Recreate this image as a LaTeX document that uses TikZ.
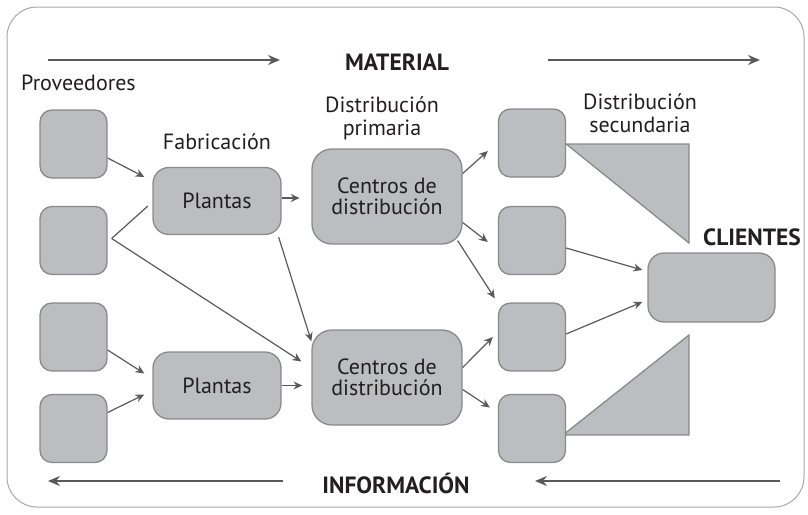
\documentclass[tikz,border=0pt]{standalone}
\usepackage{fontspec}
\setmainfont{PT Sans}
\usetikzlibrary{arrows.meta,calc}
\definecolor{boxfill}{HTML}{BCBDC0}
\definecolor{boxline}{HTML}{8A8A8C}
\definecolor{arrline}{HTML}{5A5A5A}
\definecolor{txt}{HTML}{231F20}
\definecolor{frame}{HTML}{A8A8A8}
\begin{document}
\begin{tikzpicture}[x=1pt,y=-1pt,
  every node/.style={text=txt},
  gbox/.style={draw=boxline,fill=boxfill,line width=1.3pt,inner sep=0pt,align=center,font=\fontsize{22}{20.5}\selectfont},
  small/.style={gbox,minimum width=67pt,minimum height=68pt,rounded corners=12pt},
  plant/.style={gbox,minimum width=128pt,minimum height=67pt,rounded corners=16pt},
  center/.style={gbox,minimum width=150pt,minimum height=95pt,rounded corners=20pt},
  lbl/.style={font=\fontsize{22}{23}\selectfont,align=center,inner sep=0pt},
  big/.style={font=\fontsize{23.5}{23.5}\selectfont\bfseries,inner sep=0pt},
  arr/.style={draw=arrline,line width=1.2pt,-{Stealth[length=9pt,width=8pt,inset=3pt]}},
  flow/.style={draw=arrline,line width=2pt,-{Stealth[length=12pt,width=10pt,inset=4pt]}},
  tri/.style={draw=boxline,fill=boxfill,line width=1.3pt,line join=miter}]
\useasboundingbox (0,0) rectangle (808,514);
\draw[frame,line width=1pt,rounded corners=30pt] (7,7) rectangle (804,507);

% flow labels
\node[big] (mat) at (397,62) {MATERIAL};
\node[big] (inf) at (396,483) {INFORMACIÓN};
\coordinate (m1) at (48,60);
\coordinate (m2) at (280,60);
\coordinate (m3) at (548,60);
\coordinate (m4) at (760,60);
\coordinate (i1) at (283,481);
\coordinate (i2) at (48,481);
\coordinate (i3) at (780,481);
\coordinate (i4) at (535,481);
\draw[flow] (m1) -- (m2);
\draw[flow] (m3) -- (m4);
\draw[flow] (i1) -- (i2);
\draw[flow] (i3) -- (i4);

% labels
\node[lbl,anchor=west] (lprov) at (21,83) {Proveedores};
\node[lbl] (lfab) at (217,142) {Fabricación};
\node[lbl] (lprim) at (382,118) {Distribución\\primaria};
\node[lbl] (lsec) at (640,113) {Distribución\\secundaria};
\node[big] (lcli) at (752,237) {CLIENTES};

% suppliers
\node[small] (s1) at (73.5,144) {};
\node[small] (s2) at (73.5,240.5) {};
\node[small] (s3) at (73.5,337) {};
\node[small] (s4) at (73.5,428.5) {};

% plants
\node[plant] (p1) at (217,201) {Plantas};
\node[plant] (p2) at (217,385.5) {Plantas};

% distribution centres
\node[center] (c1) at (387,196.5) {Centros de\\distribución};
\node[center] (c2) at (387,377.5) {Centros de\\distribución};

% secondary
\node[small] (r1) at (532,143) {};
\node[small] (r2) at (532,240.5) {};
\node[small] (r3) at (532,337) {};
\node[small] (r4) at (532,428.5) {};

% clients
\node[gbox,minimum width=127pt,minimum height=69pt,rounded corners=16pt] (cl) at (711.5,287.5) {};

% triangles
\draw[tri] ($(r1.east)+(0,1)$) -- (689,144) -- (689,243) -- cycle;
\draw[tri] ($(r4.east)+(0,4)$) -- (689,335) -- (689,435) -- (566,435) -- cycle;

% connectors
\draw[arr] ($(s1.east)+(0,14)$) -- ($(p1.west)+(-8,-24)$);
\coordinate (v) at ($(s2.east)+(4,-2)$);
\draw[draw=arrline,line width=1.2pt,shorten >=6pt] (v) -- ($(p1.west)+(0,1)$);
\draw[arr] (v) -- ($(c2.west)+(-10,-16)$);
\draw[arr] ($(p1.south east)+(-3,2)$) -- ($(c2.north west)+(0,12)$);
\draw[arr] ($(p1.east)+(0,-3)$) -- ($(p1.east)+(18,-3)$);
\draw[arr] ($(s3.east)+(0,13)$) -- ($(p2.west)+(-8,-12)$);
\draw[arr] ($(s4.east)+(0,-16)$) -- ($(p2.west)+(-8,9)$);
\draw[arr] (p2.east) -- ($(c2.west)+(-9,8)$);
\draw[arr] ($(c1.east)+(0,-23)$) -- ($(r1.west)+(-10,8)$);
\draw[arr] ($(c1.east)+(0,26)$) -- ($(r2.west)+(-10,1.5)$);
\draw[arr] ($(c1.south east)+(-5,-4)$) -- ($(r3.north west)+(-3,-4)$);
\draw[arr] ($(c2.east)+(0,-10)$) -- ($(r3.west)+(-5,0)$);
\draw[arr] ($(c2.east)+(0,12)$) -- ($(r4.west)+(-8,-21)$);
\draw[arr] ($(r2.east)+(0,7.5)$) -- ($(cl.west)+(-5,-17.5)$);
\draw[arr] ($(r3.east)+(0,-3)$) -- ($(cl.west)+(-5,14.5)$);
\end{tikzpicture}
\end{document}
